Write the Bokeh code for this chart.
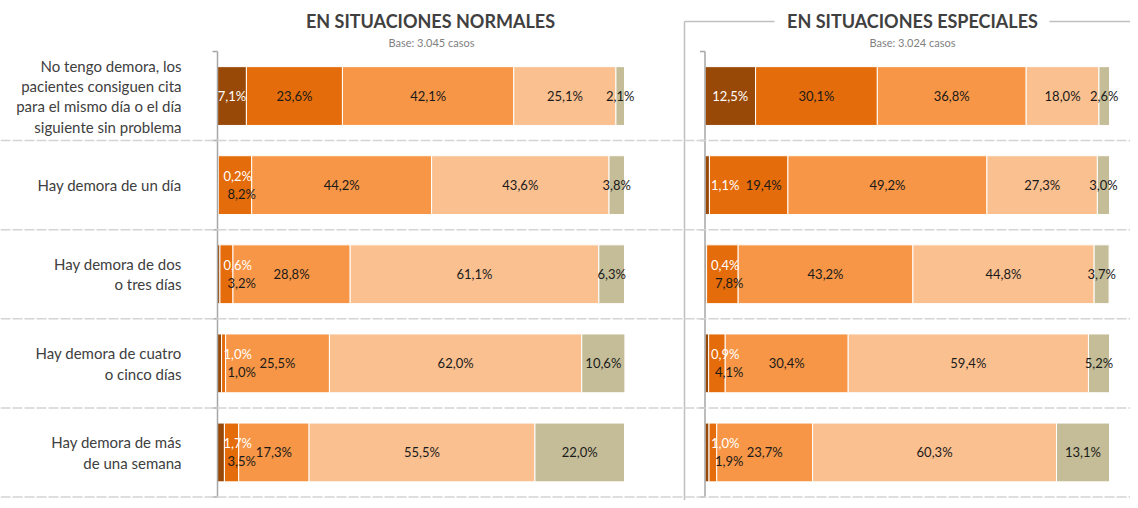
import numpy as np
from bokeh.plotting import figure
from bokeh.models import Range1d, Span, ColumnDataSource
from bokeh.core.properties import value
from bokeh.embed import file_html
from bokeh.resources import INLINE

# ---------------- data ----------------
categories = [
    "No tengo demora, los\npacientes consiguen cita\npara el mismo día o el día\nsiguiente sin problema",
    "Hay demora de un día",
    "Hay demora de dos\no tres días",
    "Hay demora de cuatro\no cinco días",
    "Hay demora de más\nde una semana",
]

titles = ["EN SITUACIONES NORMALES", "EN SITUACIONES ESPECIALES"]
subtitles = ["Base: 3.045 casos", "Base: 3.024 casos"]

normales_1 = [7.1, 0.2, 0.6, 1.0, 1.7]
normales_2 = [23.6, 8.2, 3.2, 1.0, 3.5]
normales_3 = [42.1, 44.2, 28.8, 25.5, 17.3]
normales_4 = [25.1, 43.6, 61.1, 62.0, 55.5]
normales_5 = [2.1, 3.8, 6.3, 10.6, 22.0]

especiales_1 = [12.5, 1.1, 0.4, 0.9, 1.0]
especiales_2 = [30.1, 19.4, 7.8, 4.1, 1.9]
especiales_3 = [36.8, 49.2, 43.2, 30.4, 23.7]
especiales_4 = [18.0, 27.3, 44.8, 59.4, 60.3]
especiales_5 = [2.6, 3.0, 3.7, 5.2, 13.1]

colors = ["#984807", "#E46C0A", "#F79646", "#FAC090", "#C4BD97"]
label_colors = ["white", "#1a1a1a", "#1a1a1a", "#1a1a1a", "#1a1a1a"]

# ---------------- layout constants (pixels) ----------------
W, H = 1130, 500
L_AXIS_PX, L_SCALE = 217.0, 4.07
R_AXIS_PX, R_SCALE = 704.5, 4.045
ROW_TOP_PX, ROW_PX = 51.0, 89.1
FONT = "Lato"


def yd(py):
    return (py - ROW_TOP_PX) / ROW_PX - 0.5


def xl(px):
    return (px - L_AXIS_PX) / L_SCALE


def xr(px):
    return (px - R_AXIS_PX) / R_SCALE


p = figure(
    width=W, height=H, output_backend="svg", toolbar_location=None,
    x_range=Range1d(xl(0), xl(W)), y_range=Range1d(yd(H), yd(0)),
    x_axis_location=None, y_axis_location=None,
    min_border=0, outline_line_color=None,
)
p.extra_x_ranges = {"right": Range1d(xr(0), xr(W))}
p.grid.visible = False

rows = np.arange(len(categories))

# dashed row separators spanning the whole width
for b in rows + 0.5:
    p.add_layout(Span(location=b, dimension="width", line_color="#D4D4D4",
                      line_width=1.5, line_dash="10 2"))

panels = [
    ("default", [normales_1, normales_2, normales_3, normales_4, normales_5], L_SCALE),
    ("right", [especiales_1, especiales_2, especiales_3, especiales_4, especiales_5], R_SCALE),
]

for rname, series, scale in panels:
    vals = np.array(series, dtype=float)  # shape (5 series, 5 rows)
    cum = np.cumsum(vals, axis=0)
    left = cum - vals
    for s in range(vals.shape[0]):
        p.hbar(y=rows, left=left[s], right=cum[s], height=0.66,
               fill_color=colors[s], line_color="white", line_width=1,
               x_range_name=rname)

    # axis line + ticks
    tick_len = 5.0 / scale
    p.segment(x0=[0], y0=[-0.5], x1=[0], y1=[len(categories) - 0.5],
              line_color="#A6A6A6", line_width=1.5, x_range_name=rname)
    bnd = np.arange(len(categories) + 1) - 0.5
    p.segment(x0=np.full(len(bnd), -tick_len), y0=bnd, x1=np.zeros(len(bnd)), y1=bnd,
              line_color="#A6A6A6", line_width=1.5, x_range_name=rname)

    # data labels
    lx, ly, lt, lc, la, lxo, lyo = [], [], [], [], [], [], []
    for r in rows:
        v = vals[:, r]
        small_first = v[0] < 5
        stacked = small_first and v[1] < 10
        for s in range(vals.shape[0]):
            txt = f"{v[s]:.1f}".replace(".", ",") + "%"
            center = left[s, r] + v[s] / 2
            if s == 0 and small_first:
                lx.append(0); la.append("left"); lxo.append(6)
                lyo.append(-9 if stacked else 0)
            elif s == 1 and stacked:
                lx.append(0); la.append("left"); lxo.append(10); lyo.append(9)
            elif s == 1 and small_first:
                lx.append(center); la.append("center"); lxo.append(15); lyo.append(0)
            else:
                lx.append(center); la.append("center"); lxo.append(0); lyo.append(0)
            ly.append(r); lt.append(txt); lc.append(label_colors[s])
    src = ColumnDataSource(dict(x=lx, y=ly, text=lt, color=lc, align=la, xo=lxo, yo=lyo))
    p.text(x="x", y="y", text="text", source=src, text_color="color",
           text_align="align", x_offset="xo", y_offset="yo",
           text_baseline="middle", text_font=value(FONT), text_font_size="13px",
           x_range_name=rname)

# category labels
p.text(x=np.zeros(len(categories)), y=rows, text=categories, x_offset=-36,
       text_align="right", text_baseline="middle", text_line_height=1.13,
       text_font=value(FONT), text_font_size="15px", text_color="#404040")

# titles
p.text(x=[xl(430)], y=[yd(20)], text=[titles[0]], text_align="center",
       text_baseline="middle", text_font=value(FONT), text_font_style="bold",
       text_font_size="18px", text_color="#404040")
p.text(x=[xl(431)], y=[yd(42)], text=[subtitles[0]], text_align="center",
       text_baseline="middle", text_font=value(FONT), text_font_size="11px",
       text_color="#7F7F7F")
p.text(x=[xr(912)], y=[yd(20)], text=[titles[1]], text_align="center",
       text_baseline="middle", text_font=value(FONT), text_font_style="bold",
       text_font_size="18px", text_color="#404040", x_range_name="right")
p.text(x=[xr(912)], y=[yd(42)], text=[subtitles[1]], text_align="center",
       text_baseline="middle", text_font=value(FONT), text_font_size="11px",
       text_color="#7F7F7F", x_range_name="right")

# frame lines around the right panel title
p.segment(x0=[xr(684), xr(1049)], y0=[yd(21), yd(21)], x1=[xr(774), xr(W)], y1=[yd(21), yd(21)],
          line_color="#BFBFBF", line_width=1.5, x_range_name="right")
p.segment(x0=[xr(684)], y0=[yd(21)], x1=[xr(684)], y1=[yd(H)],
          line_color="#BFBFBF", line_width=1.5, x_range_name="right")

open("out.html", "w").write(file_html(p, INLINE))
